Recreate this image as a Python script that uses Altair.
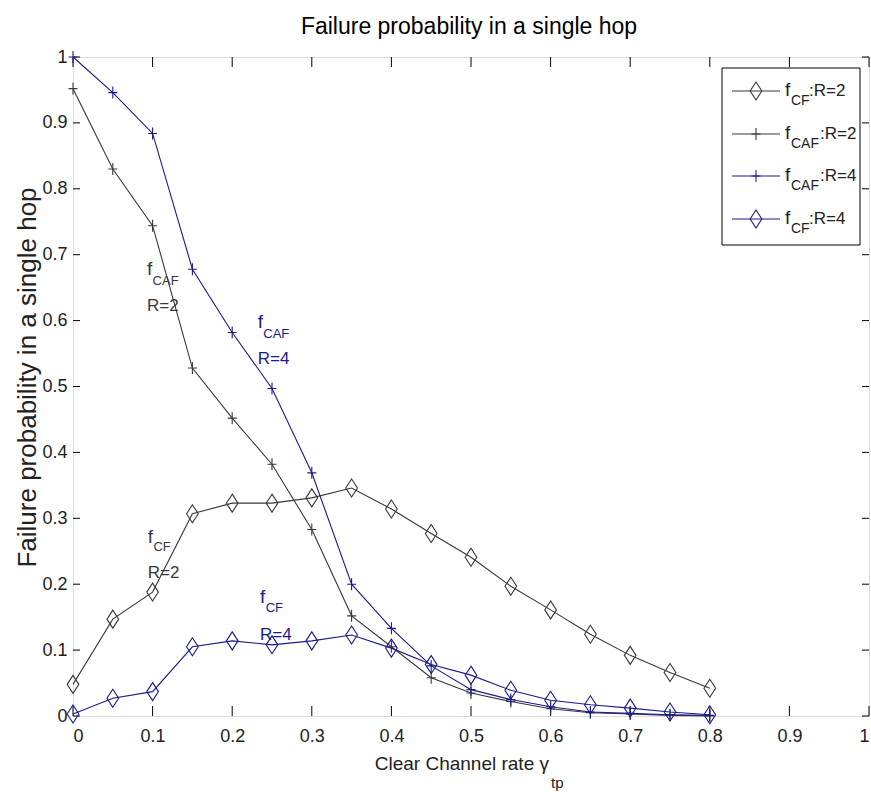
import altair as alt
import pandas as pd

# ---------------- data ----------------
x_vals = [0.0, 0.05, 0.1, 0.15, 0.2, 0.25, 0.3, 0.35, 0.4, 0.45, 0.5, 0.55, 0.6, 0.65, 0.7, 0.75, 0.8]
cf_r2 = [0.048, 0.147, 0.188, 0.307, 0.323, 0.323, 0.331, 0.346, 0.314, 0.277, 0.241, 0.197, 0.161, 0.124, 0.092, 0.066, 0.042]
caf_r2 = [0.952, 0.830, 0.744, 0.528, 0.452, 0.382, 0.283, 0.152, 0.105, 0.058, 0.035, 0.022, 0.011, 0.005, 0.003, 0.001, 0.0]
caf_r4 = [1.0, 0.946, 0.884, 0.678, 0.582, 0.497, 0.369, 0.200, 0.133, 0.076, 0.040, 0.025, 0.014, 0.006, 0.004, 0.002, 0.001]
cf_r4 = [0.003, 0.027, 0.037, 0.105, 0.114, 0.108, 0.114, 0.123, 0.103, 0.078, 0.062, 0.039, 0.024, 0.017, 0.012, 0.006, 0.002]

x_ticks = [0, 0.1, 0.2, 0.3, 0.4, 0.5, 0.6, 0.7, 0.8, 0.9, 1]
y_ticks = [0, 0.1, 0.2, 0.3, 0.4, 0.5, 0.6, 0.7, 0.8, 0.9, 1]

title_text = "Failure probability in a single hop"
legend_sub = ["CF", "CAF", "CAF", "CF"]
legend_rest = [":R=2", ":R=2", ":R=4", ":R=4"]

# in-plot annotations (f, subscript, R=..)
ann_sub = ["CAF", "CAF", "CF", "CF"]
ann_r = ["R=2", "R=4", "R=2", "R=4"]
# annotation anchor positions (data space)
ann_fx = [0.093, 0.232, 0.094, 0.235]
ann_fy = [0.669, 0.589, 0.263, 0.171]
ann_sx = [0.100, 0.239, 0.101, 0.242]
ann_sy = [0.654, 0.574, 0.250, 0.158]
ann_ry = [0.615, 0.534, 0.209, 0.115]

# ---------------- styling ----------------
W, H = 796, 659
BLACK = "#383838"
BLUE = "#1a1a8c"
TXT = "#222222"
FONT = "Liberation Sans, Arial"
DIAMOND = "M0,-1L0.65,0L0,1L-0.65,0Z"
PLUS = "M-0.75,0L0.75,0M0,-1L0,1"

xs = alt.Scale(domain=[0, 1], nice=False, zero=False)
ys = alt.Scale(domain=[0, 1], nice=False, zero=False)

X_AX = alt.Axis(values=x_ticks, format="~g", title=None, grid=False, ticks=False, tickSize=0,
                domain=False, labelFont=FONT, labelFontSize=18, labelColor=TXT,
                labelPadding=11, labelOverlap=False)
Y_AX = alt.Axis(values=y_ticks, format="~g", title="Failure probability in a single hop",
                grid=False, ticks=False, tickSize=0, domain=False, labelFont=FONT,
                labelFontSize=18, labelColor=TXT, labelPadding=6, labelOverlap=False,
                titleFont=FONT, titleFontSize=26, titleFontWeight="normal", titleColor=TXT,
                titleAngle=270, titleAlign="center", titleBaseline="middle",
                titleX=-46, titleY=320)

X = lambda f="x": alt.X(f"{f}:Q", scale=xs, axis=X_AX)
Y = lambda f="y": alt.Y(f"{f}:Q", scale=ys, axis=Y_AX)

dummy = pd.DataFrame({"d": [0]})
layers = []

# frame ticks (inward, on all four sides)
xt = pd.DataFrame({"x": x_ticks})
yt = pd.DataFrame({"y": y_ticks})
layers.append(alt.Chart(xt).mark_rule(color="black", strokeWidth=1).encode(x=X(), y=alt.value(H), y2=alt.value(H - 10)))
layers.append(alt.Chart(xt).mark_rule(color="black", strokeWidth=1).encode(x=X(), y=alt.value(0), y2=alt.value(10)))
layers.append(alt.Chart(yt).mark_rule(color="black", strokeWidth=1).encode(y=Y(), x=alt.value(0), x2=alt.value(7)))
layers.append(alt.Chart(yt).mark_rule(color="black", strokeWidth=1).encode(y=Y(), x=alt.value(W), x2=alt.value(W - 7)))

series = [
    (cf_r2, BLACK, DIAMOND, 324),
    (caf_r2, BLACK, PLUS, 144),
    (caf_r4, BLUE, PLUS, 144),
    (cf_r4, BLUE, DIAMOND, 324),
]

for vals, col, shape, size in series:
    df = pd.DataFrame({"x": x_vals, "y": vals})
    layers.append(alt.Chart(df).mark_line(color=col, strokeWidth=1.1).encode(x=X(), y=Y()))
    layers.append(alt.Chart(df).mark_point(shape=shape, size=size, filled=False, stroke=col,
                                           strokeWidth=1.1, opacity=1).encode(x=X(), y=Y()))

# annotations
ann_cols = [BLACK, BLUE, BLACK, BLUE]
for i in range(4):
    c = ann_cols[i]
    d1 = pd.DataFrame({"x": [ann_fx[i]], "y": [ann_fy[i]], "t": ["f"]})
    d2 = pd.DataFrame({"x": [ann_sx[i]], "y": [ann_sy[i]], "t": [ann_sub[i]]})
    d3 = pd.DataFrame({"x": [ann_fx[i]], "y": [ann_ry[i]], "t": [ann_r[i]]})
    layers.append(alt.Chart(d1).mark_text(align="left", baseline="alphabetic", font=FONT, fontSize=19, color=c)
                  .encode(x=X(), y=Y(), text="t:N"))
    layers.append(alt.Chart(d2).mark_text(align="left", baseline="alphabetic", font=FONT, fontSize=13, color=c)
                  .encode(x=X(), y=Y(), text="t:N"))
    layers.append(alt.Chart(d3).mark_text(align="left", baseline="alphabetic", font=FONT, fontSize=17, color=c)
                  .encode(x=X(), y=Y(), text="t:N"))

# legend box
layers.append(alt.Chart(dummy).mark_rect(fill="white", stroke="black", strokeWidth=1).encode(
    x=alt.value(649), x2=alt.value(787), y=alt.value(11), y2=alt.value(188)))
leg_y = [34, 77, 119, 162]
leg_rest_x = [736, 747, 747, 736]
for i, (vals, col, shape, size) in enumerate(series):
    ly = leg_y[i]
    layers.append(alt.Chart(dummy).mark_rule(color=col, strokeWidth=1.1).encode(
        x=alt.value(659), x2=alt.value(707), y=alt.value(ly)))
    layers.append(alt.Chart(dummy).mark_point(shape=shape, size=size, filled=False, stroke=col,
                                              strokeWidth=1.1, opacity=1).encode(x=alt.value(683), y=alt.value(ly)))
    layers.append(alt.Chart(dummy).mark_text(text="f", align="left", baseline="alphabetic", font=FONT,
                                             fontSize=19, color=TXT).encode(x=alt.value(712), y=alt.value(ly + 5)))
    layers.append(alt.Chart(dummy).mark_text(text=legend_sub[i], align="left", baseline="alphabetic", font=FONT,
                                             fontSize=14, color=TXT).encode(x=alt.value(718), y=alt.value(ly + 14)))
    layers.append(alt.Chart(dummy).mark_text(text=legend_rest[i], align="left", baseline="alphabetic", font=FONT,
                                             fontSize=17, color=TXT).encode(x=alt.value(leg_rest_x[i]), y=alt.value(ly + 5)))

# chart title
layers.append(alt.Chart(dummy).mark_text(text=title_text, align="center", baseline="alphabetic",
                                         font=FONT, fontSize=23, color="black").encode(x=alt.value(W / 2 - 2), y=alt.value(-23)))

# x-axis title with subscript
layers.append(alt.Chart(dummy).mark_text(text="Clear Channel rate γ", align="right", baseline="alphabetic",
                                         font=FONT, fontSize=19, color=TXT).encode(x=alt.value(476), y=alt.value(713)))
layers.append(alt.Chart(dummy).mark_text(text="tp", align="left", baseline="alphabetic",
                                         font=FONT, fontSize=15, color=TXT).encode(x=alt.value(478), y=alt.value(731)))

chart = alt.layer(*layers).properties(
    width=W, height=H,
    autosize=alt.AutoSizeParams(type="none"),
    padding={"left": 73, "top": 57, "right": 2, "bottom": 76},
).configure_view(stroke="black", strokeWidth=1.2).configure(background="white")

chart.save("out.html", embed_options={"renderer": "svg", "actions": False})
